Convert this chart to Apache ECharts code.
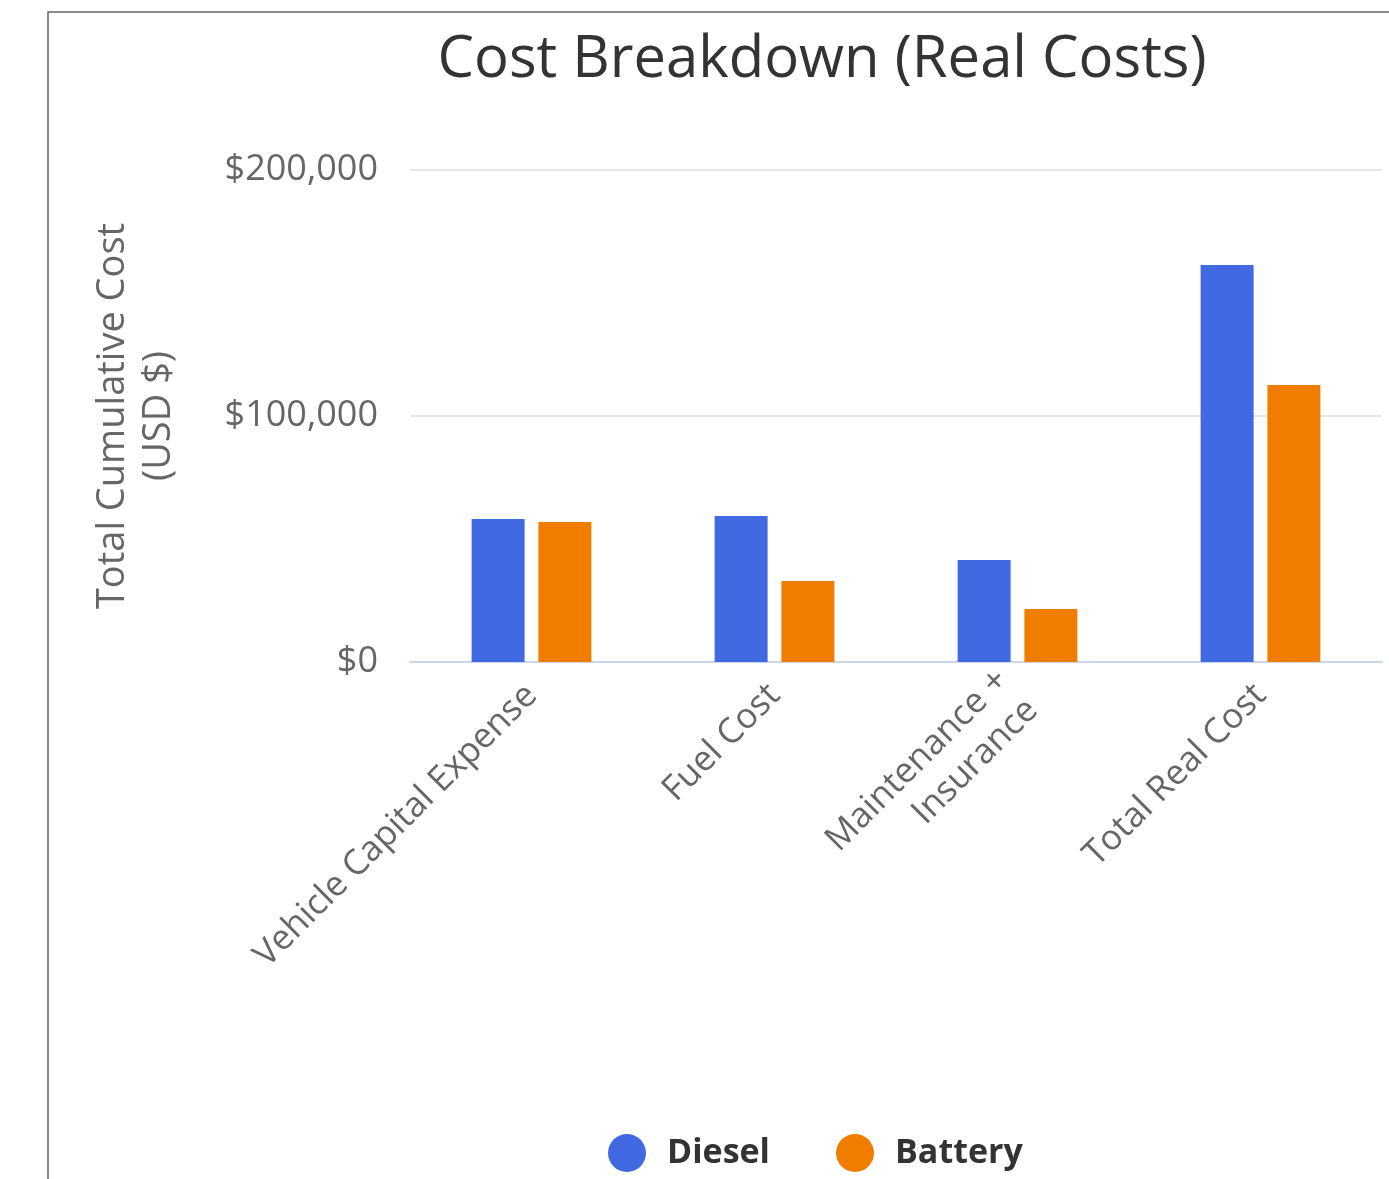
<!DOCTYPE html>
<html>
<head>
<meta charset="utf-8">
<script src="https://cdn.jsdelivr.net/npm/echarts@6/dist/echarts.min.js"></script>
<style>
  html, body { margin: 0; padding: 0; background: #fff; overflow: hidden; }
  #chart { width: 1389px; height: 1179px; }
</style>
</head>
<body>
<div id="chart"></div>
<script>
// data
var categories = ['Vehicle Capital Expense', 'Fuel Cost', 'Maintenance +\nInsurance', 'Total Real Cost'];
var diesel = [58100, 59400, 41500, 161400];
var battery = [56900, 32900, 21500, 112600];
var yTicks = [0, 100000, 200000];

var myChart = echarts.init(document.getElementById('chart'));
var option = {
  backgroundColor: '#fff',
  textStyle: { fontFamily: 'Open Sans' },
  graphic: [{
    type: 'rect',
    shape: { x: 48, y: 12, width: 1400, height: 1300 },
    style: { fill: 'none', stroke: '#666', lineWidth: 1.5 },
    silent: true
  }],
  title: {
    text: 'Cost Breakdown (Real Costs)',
    left: 817,
    top: 26,
    textAlign: 'center',
    textStyle: { fontSize: 58, fontWeight: 'normal', color: '#333', fontFamily: 'Open Sans' }
  },
  legend: {
    data: ['Diesel', 'Battery'],
    left: 603,
    top: 1129,
    icon: 'circle',
    itemWidth: 38,
    itemHeight: 38,
    itemGap: 66,
    textStyle: { fontSize: 34, fontWeight: 'bold', color: '#333', padding: [0, 0, 0, 16] }
  },
  grid: { left: 410, right: 7, top: 170, height: 492 },
  xAxis: {
    type: 'category',
    data: categories,
    axisLine: { lineStyle: { color: '#ccd6eb', width: 2 } },
    axisTick: { show: false },
    axisLabel: { rotate: 45, fontSize: 35, color: '#666', margin: 28, lineHeight: 42 }
  },
  yAxis: {
    type: 'value',
    min: 0,
    max: 200000,
    interval: 100000,
    name: 'Total Cumulative Cost\n(USD $)',
    nameLocation: 'middle',
    nameGap: 228,
    nameTextStyle: { fontSize: 38, color: '#666', lineHeight: 46 },
    axisLine: { show: false },
    axisTick: { show: false },
    splitLine: { lineStyle: { color: '#e6e6e6', width: 2 } },
    axisLabel: {
      fontSize: 36, color: '#666', margin: 32,
      formatter: function (v) { return yTicks.indexOf(v) >= 0 ? '$' + v.toLocaleString('en-US') : ''; }
    }
  },
  series: [
    { name: 'Diesel', type: 'bar', data: diesel, barWidth: 53, barGap: '26%', itemStyle: { color: '#4169e1' } },
    { name: 'Battery', type: 'bar', data: battery, barWidth: 53, itemStyle: { color: '#f07c00' } }
  ]
};
myChart.setOption(option);
window.onresize = function () { myChart.resize(); };
</script>
</body>
</html>
